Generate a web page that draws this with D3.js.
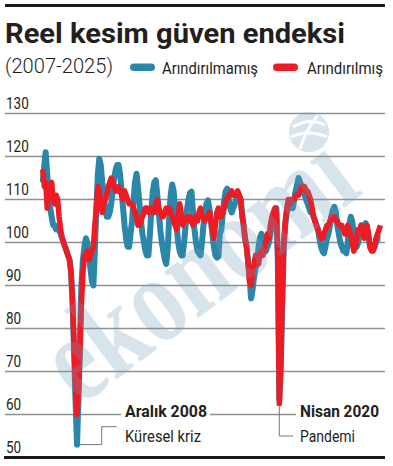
<!DOCTYPE html>
<html>
<head>
<meta charset="utf-8">
<script src="https://cdn.jsdelivr.net/npm/d3@7"></script>
<style>
body { margin: 0; background: #fff; }
svg { display: block; font-family: Roboto, 'Noto Sans', sans-serif; }
</style>
</head>
<body>
<svg id="chart" width="393" height="466"></svg>
<script>
// Reel kesim güven endeksi, aylık, Ocak 2007 - Aralık 2025
var startYear = 2007;

// mevsimsellikten arındırılmamış (mavi)
var arindirilmamis = [
  114, 118, 121, 116, 110, 108, 106, 104, 104, 103, 103, 103,
  102, 101, 100, 99, 98, 97, 96, 93, 86, 75, 63, 53,
  64, 78, 90, 96, 99, 101, 100, 97, 94, 91, 90, 98,
  108, 116, 119.5, 118, 114, 111, 108, 106, 106, 107, 109, 112,
  115, 117, 118, 118, 116, 112, 108, 104, 101, 99, 99, 102,
  105, 110, 114, 116, 113, 109, 105, 102, 100, 98, 97, 97,
  102, 108, 112, 114, 114.5, 111, 107, 103, 100, 98, 96, 95,
  99, 106, 111, 113.5, 112, 108, 104, 100, 98, 97, 97, 100,
  104, 108, 110, 111.5, 111.8, 107, 103, 100, 98, 97.5, 97, 100,
  104, 107, 109, 109.8, 108, 105, 102, 99, 97, 96.5, 96.7, 102,
  103, 107, 110, 112, 112.5, 110, 108, 107, 108, 109, 110, 111,
  111, 110, 107, 104, 101, 99, 96, 92, 87, 89, 92, 94,
  95, 99, 101, 102, 101, 99, 98, 99, 100, 102, 104, 106,
  107, 108, 96, 63.5, 71, 86, 99, 104, 107, 109, 108, 109,
  108, 110, 112, 113.5, 115, 114, 113, 112, 111, 110, 109, 108,
  107, 107, 106, 105, 104, 103, 101, 99, 98, 97.5, 99, 101,
  102, 104, 106, 107.5, 108.3, 107, 104, 102, 100, 99, 98, 98,
  97.5, 100, 104, 106, 105, 102, 100, 99, 100, 102, 104, 104,
  104, 104.5, 103, 101, 99, 98.3, 99, 99, 100, 101, 101, 101
];

// mevsimsellikten arındırılmış (kırmızı)
var arindirilmis = [
  117, 113, 114, 108, 112, 113, 114, 110, 109, 111, 110, 106,
  103, 101, 100, 99, 98, 97, 96, 93, 86, 76, 66, 60,
  66, 75, 86, 93, 97, 97, 98, 96, 97, 98, 99, 104,
  108, 113, 112, 109, 107, 109, 110, 111, 113, 114, 115, 114,
  113, 112, 112, 113, 112, 111, 110, 112, 111, 110, 109, 109,
  109, 108, 107, 106, 104, 104, 105, 106, 107, 108, 108, 107,
  107, 108, 108, 107, 109, 110, 108, 107, 106, 106, 107, 108,
  107, 108, 107, 106, 105, 104, 103, 106, 109, 107, 104, 105,
  105, 106, 105, 106, 105, 104, 105, 106, 105, 107, 108, 106,
  106, 105, 106, 106, 107, 105, 103, 101, 104, 107, 108, 106,
  106, 107, 108, 110, 110, 111, 111, 112, 111, 111, 111, 112,
  111, 110, 106, 104, 101, 99, 95, 91, 90, 93, 95, 97,
  96, 95, 97, 98, 97, 99, 100, 102, 101, 104, 106, 107,
  108, 107, 97, 62.5, 72, 88, 100, 105, 108, 110, 109, 110,
  110, 110, 111, 111, 111, 112, 113, 113, 113, 112, 112, 111,
  110, 108, 106, 105, 104, 103, 102, 101, 101, 102, 103, 104,
  104, 105, 106, 106, 106, 105, 105, 104, 104, 104, 103, 102,
  102, 104, 103, 102, 100, 98, 99, 101, 103, 103, 104, 102,
  101, 103, 104, 102, 99, 98, 98, 99, 101, 102, 103, 104
];

var yTicks = [50, 60, 70, 80, 90, 100, 110, 120, 130];
var seriesNames = ['Arındırılmamış', 'Arındırılmış'];
var seriesColors = ['#2a87aa', '#ed1c24'];

// notlar: ay indeksi, hangi seri, başlık, açıklama
var notes = [
  { month: 23, series: 0, title: 'Aralık 2008', sub: 'Küresel kriz' },
  { month: 159, series: 1, title: 'Nisan 2020', sub: 'Pandemi' }
];

function monthDate(i) { return new Date(startYear, i, 1); }

var svg = d3.select('#chart');

var x = d3.scaleTime()
  .domain([monthDate(0), monthDate(arindirilmis.length - 1)])
  .range([42.8, 380.5]);
var y = d3.scaleLinear().domain([50, 130]).range([457.5, 113.5]);

// top rule
svg.append('rect').attr('x', 5).attr('y', 4).attr('width', 380).attr('height', 3).attr('fill', '#1a1a1a');

// title
svg.append('text')
  .attr('x', 5).attr('y', 43)
  .attr('font-size', 28).attr('font-weight', 700).attr('fill', '#231f20')
  .attr('textLength', 340).attr('lengthAdjust', 'spacingAndGlyphs')
  .text('Reel kesim güven endeksi');

svg.append('text')
  .attr('x', 5).attr('y', 73)
  .attr('font-size', 20).attr('font-weight', 300).attr('fill', '#231f20')
  .attr('textLength', 108).attr('lengthAdjust', 'spacingAndGlyphs')
  .text('(2007-2025)');

// legend
var legendPos = [{ px: 130, tx: 162, tw: 96 }, { px: 273, tx: 307, tw: 76 }];
var legend = svg.append('g').selectAll('g')
  .data(seriesNames)
  .join('g');
legend.append('rect')
  .attr('x', function(d, i) { return legendPos[i].px; })
  .attr('y', 63.5).attr('width', 25).attr('height', 7.5).attr('rx', 3.75)
  .attr('fill', function(d, i) { return seriesColors[i]; });
legend.append('text')
  .attr('x', function(d, i) { return legendPos[i].tx; })
  .attr('y', 73.5)
  .attr('font-size', 17).attr('fill', '#231f20')
  .attr('textLength', function(d, i) { return legendPos[i].tw; })
  .attr('lengthAdjust', 'spacingAndGlyphs')
  .text(function(d) { return d; });

// grid
svg.append('g').selectAll('line')
  .data(yTicks.filter(function(t) { return t > 50; }))
  .join('line')
  .attr('x1', 5).attr('x2', 385)
  .attr('y1', function(d) { return y(d); })
  .attr('y2', function(d) { return y(d); })
  .attr('stroke', '#909090').attr('stroke-width', 1.5);

svg.append('g').selectAll('text')
  .data(yTicks)
  .join('text')
  .attr('x', 6)
  .attr('y', function(d) { return y(d) - 4.5; })
  .attr('font-size', 16).attr('fill', '#231f20')
  .attr('textLength', function(d) { return String(d).length * 7.6; })
  .attr('lengthAdjust', 'spacingAndGlyphs')
  .text(function(d) { return d; });

// white boxes under the note titles (cut the 60 line)
svg.append('rect').attr('x', 121).attr('y', 403).attr('width', 89).attr('height', 17).attr('fill', '#fff');
svg.append('rect').attr('x', 296).attr('y', 403).attr('width', 92).attr('height', 17).attr('fill', '#fff');

// lines
var line = d3.line()
  .x(function(d, i) { return x(monthDate(i)); })
  .y(function(d) { return y(d); });

svg.append('g').selectAll('path')
  .data([arindirilmamis, arindirilmis])
  .join('path')
  .attr('d', line)
  .attr('fill', 'none')
  .attr('stroke', function(d, i) { return seriesColors[i]; })
  .attr('stroke-width', function(d, i) { return i === 0 ? 6 : 5.5; })
  .attr('stroke-linejoin', 'round');

// watermark
var wm = svg.append('g').attr('opacity', 0.27).attr('fill', '#6f9ebd');
wm.append('text')
  .attr('transform', 'translate(222,300) rotate(-37)')
  .attr('text-anchor', 'middle')
  .attr('font-family', 'Liberation Serif, DejaVu Serif, serif')
  .attr('font-weight', 700)
  .attr('font-size', 125)
  .attr('textLength', 356).attr('lengthAdjust', 'spacingAndGlyphs')
  .text('ekonomı');
wm.append('circle').attr('cx', 309).attr('cy', 132).attr('r', 20);
wm.append('path')
  .attr('d', 'M293,127 Q309,117 325,125 M291,137 Q309,129 327,137 M300,149 Q305,131 318,115')
  .attr('fill', 'none').attr('stroke', '#fff').attr('stroke-width', 3);

// bottom axis
svg.append('line')
  .attr('x1', 4).attr('x2', 385)
  .attr('y1', y(50)).attr('y2', y(50))
  .attr('stroke', '#1a1a1a').attr('stroke-width', 3.2);

// notes
var allSeries = [arindirilmamis, arindirilmis];
var n0 = notes[0], n1 = notes[1];
var p0x = x(monthDate(n0.month)), p0y = y(allSeries[n0.series][n0.month]);
var p1x = x(monthDate(n1.month)), p1y = y(allSeries[n1.series][n1.month]);

svg.append('path')
  .attr('d', 'M' + (p0x + 3) + ',' + p0y + 'H101.7V426.7H116.7')
  .attr('fill', 'none').attr('stroke', '#777').attr('stroke-width', 1);
svg.append('path')
  .attr('d', 'M' + p1x + ',' + (p1y + 3) + 'V436H293')
  .attr('fill', 'none').attr('stroke', '#777').attr('stroke-width', 1);

var noteX = [125, 300];
svg.append('g').selectAll('text')
  .data(notes)
  .join('text')
  .attr('x', function(d, i) { return noteX[i]; })
  .attr('y', 417)
  .attr('font-size', 17).attr('font-weight', 700).attr('fill', '#231f20')
  .attr('textLength', function(d, i) { return i === 0 ? 82 : 79; })
  .attr('lengthAdjust', 'spacingAndGlyphs')
  .text(function(d) { return d.title; });
svg.append('g').selectAll('text')
  .data(notes)
  .join('text')
  .attr('x', function(d, i) { return noteX[i]; })
  .attr('y', 441.5)
  .attr('font-size', 17).attr('fill', '#231f20')
  .attr('textLength', function(d, i) { return i === 0 ? 76 : 55; })
  .attr('lengthAdjust', 'spacingAndGlyphs')
  .text(function(d) { return d.sub; });
</script>
</body>
</html>
